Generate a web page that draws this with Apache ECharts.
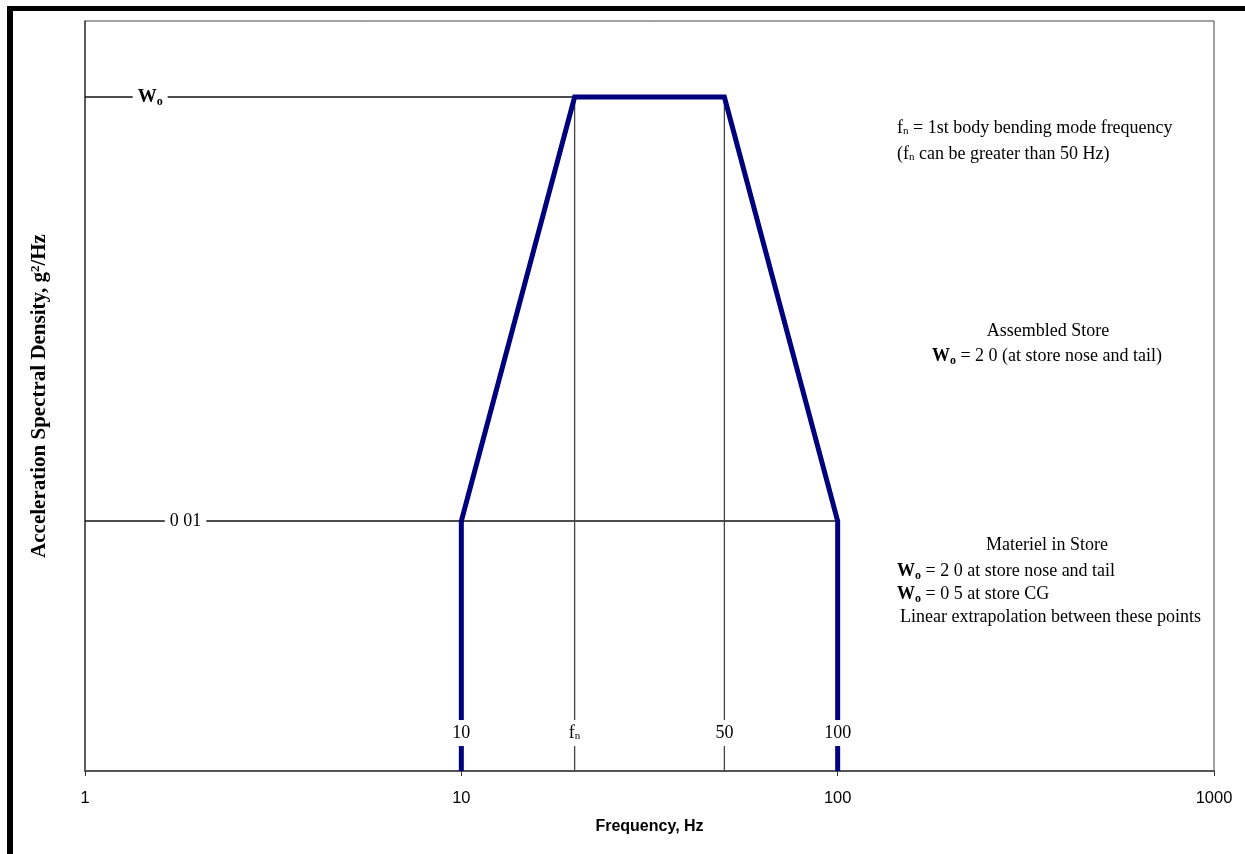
<!DOCTYPE html>
<html>
<head>
<meta charset="utf-8">
<script src="https://cdn.jsdelivr.net/npm/echarts@6/dist/echarts.min.js"></script>
<style>
html,body{margin:0;padding:0;background:#fff;}
#chart{width:1245px;height:854px;}
</style>
</head>
<body>
<div id="chart"></div>
<script>
// ---- data ----
const xTickValues = [1, 10, 100, 1000];
const W0 = 2.0;            // plateau level (Wo)
const floorASD = 0.01;     // low level
const fn = 20;             // 1st body bending mode frequency (schematic)
const yMin = 0.00044;      // bottom of the (unlabelled) log y-axis
const yMax = 5.17;         // top of the (unlabelled) log y-axis
const profileFreq = [10, 10, fn, 50, 100, 100];
const profileASD  = [yMin, floorASD, W0, W0, floorASD, yMin];
const markerFreqs  = [10, fn, 50, 100];
const markerLabels = ['{t|10}', '{f|f}{n|n}', '{t|50}', '{t|100}'];
const levelLabels  = ['{w|W}{o|o}', '{t|0 01}'];
const levelValues  = [W0, floorASD];
const levelLabelFreqs = [1.49, 1.85];

const serif = '"Liberation Serif", "Times New Roman", serif';
const sans = '"Liberation Sans", Arial, sans-serif';

const chart = echarts.init(document.getElementById('chart'), null, {renderer: 'canvas'});
const profileData = profileFreq.map((f, i) => [f, profileASD[i]]);
const labelASD = 0.000707;

const FS = 18;
const rich = {
  t: {fontFamily: serif, fontSize: FS, color: '#000'},
  f: {fontFamily: serif, fontSize: FS, color: '#000'},
  n: {fontFamily: serif, fontSize: 11, color: '#000', padding: [7, 0, 0, 0]},
  W: {fontFamily: serif, fontSize: FS, color: '#000', fontWeight: 'bold'},
  O: {fontFamily: serif, fontSize: 12, color: '#000', fontWeight: 'bold', padding: [9, 0, 0, 0]},
  w: {fontFamily: serif, fontSize: 19, color: '#000', fontWeight: 'bold'},
  o: {fontFamily: serif, fontSize: 12, color: '#000', fontWeight: 'bold', padding: [9, 0, 0, 0]}
};

const option = {
  animation: false,
  backgroundColor: '#fff',
  grid: {left: 85, top: 21, right: 31, bottom: 83, show: true, borderColor: '#444', borderWidth: 1},
  xAxis: {
    type: 'log', logBase: 10, min: xTickValues[0], max: xTickValues[xTickValues.length - 1],
    name: 'Frequency, Hz', nameLocation: 'middle', nameGap: 48,
    nameTextStyle: {fontFamily: sans, fontWeight: 'bold', fontSize: 16, color: '#000'},
    axisLine: {show: true, lineStyle: {color: '#555', width: 2}},
    axisTick: {show: true, length: 5, inside: false, lineStyle: {color: '#333', width: 1}},
    minorTick: {show: false},
    splitLine: {show: false},
    axisLabel: {fontFamily: sans, fontSize: 16.5, color: '#000', margin: 19,
      formatter: v => String(Math.round(v))}
  },
  yAxis: {
    type: 'log', logBase: 10, min: yMin, max: yMax,
    name: 'Acceleration Spectral Density, g{s|2}/Hz', nameLocation: 'middle', nameGap: 34,
    nameRotate: 90,
    nameTextStyle: {fontFamily: serif, fontWeight: 'bold', fontSize: 21, color: '#000',
      rich: {s: {fontFamily: serif, fontWeight: 'bold', fontSize: 13, color: '#000', padding: [0, 0, 9, 0]}}},
    axisLine: {show: true, lineStyle: {color: '#444', width: 1.5}},
    axisTick: {show: false},
    axisLabel: {show: false},
    splitLine: {show: false},
    minorTick: {show: false}
  },
  series: [
    {type: 'line', data: [[1, W0], [fn, W0]], symbol: 'none', silent: true,
      lineStyle: {color: '#111', width: 1.3}, z: 2},
    {type: 'line', data: [[1, floorASD], [100, floorASD]], symbol: 'none', silent: true,
      lineStyle: {color: '#111', width: 1.3}, z: 2},
    {type: 'line', data: [[fn, W0], [fn, yMin]], symbol: 'none', silent: true,
      lineStyle: {color: '#444', width: 1.3}, z: 2},
    {type: 'line', data: [[50, W0], [50, yMin]], symbol: 'none', silent: true,
      lineStyle: {color: '#444', width: 1.3}, z: 2},
    {type: 'line', data: profileData, symbol: 'none', silent: true, clip: true,
      lineStyle: {color: '#00007f', width: 5, join: 'miter'}, z: 3}
  ],
  graphic: []
};
chart.setOption(option);

const gfx = [
  {type: 'rect', shape: {x: 7, y: 6, width: 1238, height: 5}, style: {fill: '#000'}, silent: true},
  {type: 'rect', shape: {x: 7, y: 6, width: 6, height: 848}, style: {fill: '#000'}, silent: true},
  {type: 'text', x: 897, y: 128, style: {text: '{f|f}{n|n}{t| = 1st body bending mode frequency}', rich: rich, verticalAlign: 'middle', align: 'left'}},
  {type: 'text', x: 897, y: 154, style: {text: '{t|(}{f|f}{n|n}{t| can be greater than 50 Hz)}', rich: rich, verticalAlign: 'middle', align: 'left'}},
  {type: 'text', x: 1048, y: 331, style: {text: '{t|Assembled Store}', rich: rich, align: 'center', verticalAlign: 'middle'}},
  {type: 'text', x: 1047, y: 356, style: {text: '{W|W}{O|o}{t| = 2 0 (at store nose and tail)}', rich: rich, verticalAlign: 'middle', align: 'center'}},
  {type: 'text', x: 1047, y: 545, style: {text: '{t|Materiel in Store}', rich: rich, align: 'center', verticalAlign: 'middle'}},
  {type: 'text', x: 897, y: 571, style: {text: '{W|W}{O|o}{t| = 2 0 at store nose and tail}', rich: rich, verticalAlign: 'middle', align: 'left'}},
  {type: 'text', x: 897, y: 594, style: {text: '{W|W}{O|o}{t| = 0 5 at store CG}', rich: rich, verticalAlign: 'middle', align: 'left'}},
  {type: 'text', x: 900, y: 617, style: {text: '{t|Linear extrapolation between these points}', rich: rich, align: 'left', verticalAlign: 'middle'}}
];
// in-plot frequency labels on white patches
markerFreqs.forEach((f, i) => {
  const px = chart.convertToPixel({xAxisIndex: 0}, f);
  const py = chart.convertToPixel({yAxisIndex: 0}, labelASD);
  gfx.push({type: 'text', x: px, y: py, z: 100, style: {text: markerLabels[i], rich: rich,
    align: 'center', verticalAlign: 'middle', backgroundColor: '#fff', padding: [4, 2, 4, 2]}});
});
levelValues.forEach((v, i) => {
  const px = chart.convertToPixel({xAxisIndex: 0}, levelLabelFreqs[i]);
  const py = chart.convertToPixel({yAxisIndex: 0}, v);
  gfx.push({type: 'text', x: px, y: py, z: 100, style: {text: levelLabels[i], rich: rich,
    align: 'center', verticalAlign: 'middle', backgroundColor: '#fff', padding: [2, 5, 2, 5]}});
});
chart.setOption({graphic: gfx});
</script>
</body>
</html>
